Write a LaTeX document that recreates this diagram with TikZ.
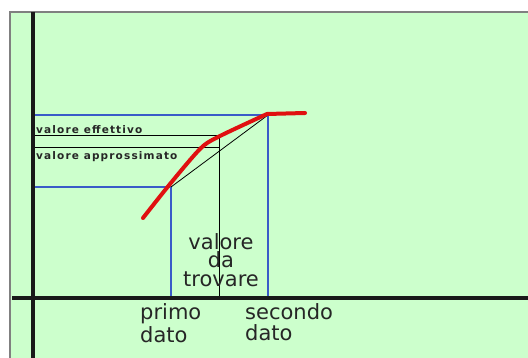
\documentclass[tikz,border=0pt]{standalone}
\usepackage{fontspec}
\setmainfont{DejaVu Sans}
\usetikzlibrary{positioning}
\definecolor{sfondo}{HTML}{CCFFCC}
\definecolor{blu}{HTML}{3A5BC8}
\definecolor{rosso}{HTML}{E01010}
\tikzset{
  asse/.style={line width=4pt,black!90},
  guida/.style={line width=1.1pt,blu},
  linea/.style={line width=1pt,black},
  curva/.style={line width=4pt,rosso,line cap=round,line join=round},
  piccolo/.style={anchor=base west,inner sep=0pt,text=black!85,
    font=\bfseries\fontsize{10.5}{12}\selectfont\addfontfeature{LetterSpace=11}},
  grande/.style={inner sep=0pt,text=black!85,anchor=base}
}
\begin{document}
\begin{tikzpicture}[x=1pt,y=-1pt]
  \useasboundingbox (0,0) rectangle (528,358);
  % sfondo
  \fill[sfondo] (10,12) rectangle (528,358);
  \draw[gray,line width=1.3pt] (10,358) -- (10,12) -- (528,12);

  \coordinate (O) at (33,298);
  \coordinate (P1) at (171,187);
  \coordinate (P2) at (268,115);
  \coordinate (Q) at (219,136);
  \coordinate (R) at (219,148);

  % linee guida
  \draw[guida] (O |- P2) -| (O -| P2);
  \draw[guida] (O |- P1) -| (O -| P1);
  \draw[linea] (O |- Q) -| (O -| Q);
  \draw[linea] (O |- R) -- (R);
  \draw[black,line width=0.8pt] (P1) -- (P2);

  % curva
  \draw[curva] plot[smooth,tension=0.5] coordinates
    {(143,218) (170,184) (200,149) (218,137) (267,114)} -- (305,113);

  % assi
  \draw[asse] (33,12) -- (33,358);
  \draw[asse] (12,298) -- (528,298);

  % testi
  \node[piccolo] (eff) at (36,133.5) {valore effettivo};
  \node[piccolo] (app) at (36,159.5) {valore approssimato};
  \node[grande,align=center,font=\fontsize{21}{18.5}\selectfont] (trov) at (221,286.5)
    {valore\\da\\trovare};
  \node[grande,anchor=base west,align=left,font=\fontsize{21}{23}\selectfont] (primo) at (140,343)
    {primo\\dato};
  \node[grande,anchor=base west,align=left,font=\fontsize{21}{21}\selectfont] (secondo) at (245,341)
    {secondo\\dato};
\end{tikzpicture}
\end{document}
